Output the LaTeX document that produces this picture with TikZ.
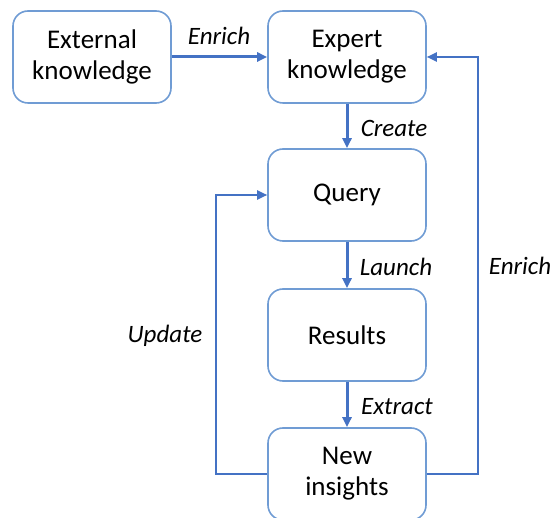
\documentclass[tikz,border=0pt]{standalone}
\usepackage{fontspec}
\setmainfont{Carlito}
\usetikzlibrary{arrows.meta}
\definecolor{boxblue}{RGB}{112,156,212}
\definecolor{arrblue}{RGB}{68,114,196}
\begin{document}
\begin{tikzpicture}[x=1pt,y=-1pt,
  box/.style={draw=boxblue, line width=1.6pt, rounded corners=15pt, minimum width=158pt, minimum height=92pt, align=center, font=\fontsize{27}{31}\selectfont, inner sep=0pt},
  flow/.style={draw=arrblue, line width=3pt, -{Triangle[length=10pt,width=9pt]}},
  loop/.style={draw=arrblue, line width=2pt, -{Triangle[length=10pt,width=9pt]}},
  lab/.style={font=\fontsize{25}{29}\selectfont\itshape, inner sep=0pt}]
\useasboundingbox (0,0) rectangle (554,518);
\clip (0,0) rectangle (554,518);
\node[box] (ext) at (92,57) {External\\knowledge};
\node[box] (exp) at (347,57) {Expert\\knowledge};
\node[box] (qry) at (347,195) {Query};
\node[box] (res) at (347,335) {Results};
\node[box] (new) at (347,474) {New\\insights};
\coordinate (lc) at (216,474);
\coordinate (lt) at (216,195);
\coordinate (rc) at (478,474);
\coordinate (rt) at (478,57);
\draw[flow] (ext) -- (exp);
\draw[flow] (exp) -- (qry);
\draw[flow] (qry) -- (res);
\draw[flow] (res) -- (new);
\draw[loop] (new.west) -- (lc) -- (lt) -- (qry.west);
\draw[loop] (new.east) -- (rc) -- (rt) -- (exp.east);
\node[lab] (l1) at (219,36) {Enrich};
\node[lab] (l2) at (394,128) {Create};
\node[lab] (l3) at (396,267) {Launch};
\node[lab] (l4) at (397,407) {Extract};
\node[lab] (l5) at (165,336) {Update};
\node[lab] (l6) at (520,266) {Enrich};
\end{tikzpicture}
\end{document}
